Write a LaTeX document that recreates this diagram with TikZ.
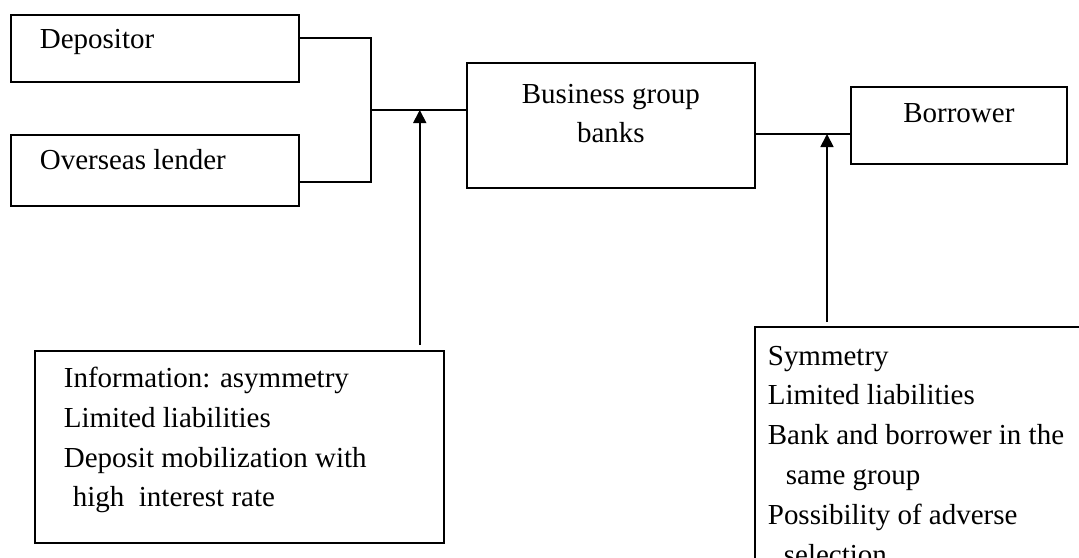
\documentclass[tikz,border=0pt]{standalone}
\usepackage{fontspec}
\setmainfont{Liberation Serif}
\usepackage{tikz}
\usetikzlibrary{arrows.meta}

\newlength\px
\setlength\px{0.02cm}
\newcommand{\boxtext}[3]{\parbox[c][#2][t]{#1}{\raggedright #3}}
\newcommand{\midtext}[3]{\parbox[c][#2][t]{#1}{\centering #3}}

\begin{document}
\begin{tikzpicture}[x=0.02cm, y=-0.02cm,
	>={Triangle[width=7.4pt,length=7.4pt]},
	every node/.style={font=\fontsize{16.5}{22.7}\selectfont},
	box/.style={draw=black, line width=1pt, anchor=north west},
	wire/.style={draw=black, line width=1pt}]

	\useasboundingbox (0,0) rectangle (1079,558);
	\clip (0,0) rectangle (1079,558);

	\node[box, inner xsep=29\px, inner ysep=14\px] (dep) at (10, 14) {\boxtext{230\px}{39\px}{Depositor}};
	\node[box, inner xsep=29\px, inner ysep=15\px] (ovl) at (10, 134) {\boxtext{230\px}{41\px}{Overseas lender}};

	\node[box, inner xsep=10\px, inner ysep=21\px] (bank) at (466, 62) {\midtext{268\px}{83\px}{Business group\\banks}};

	\node[box, inner xsep=10\px, inner ysep=17\px] (bor) at (850, 86) {\midtext{196\px}{43\px}{Borrower}};

	\node[box, inner xsep=29\px, inner ysep=16\px] (info) at (34, 350) {\boxtext{351\px}{160\px}{Information: asymmetry\\Limited liabilities\\Deposit mobilization with\\\hspace*{9\px}high\ \ interest rate}};

	\node[box, inner xsep=13\px, inner ysep=19\px] (risk) at (754, 326) {\boxtext{334\px}{222\px}{Symmetry\\Limited liabilities\\Bank and borrower in the\\\hspace*{18\px}same group\\Possibility of adverse\\\hspace*{16\px}selection}};

	\coordinate (join) at (371, 110);
	\coordinate (link) at ([yshift=-72\px]bank.north east);
	\coordinate (footL) at ([xshift=-25\px, yshift=5\px]info.north east);
	\coordinate (footR) at ([xshift=73\px, yshift=4\px]risk.north west);

	\path[wire] ([yshift=-24\px]dep.north east) -| (join);
	\path[wire] ([yshift=-48\px]ovl.north east) -| (join);
	\path[wire] (join) -- (join -| bank.west);
	\path[wire] (link) -- (link -| bor.west);

	\path[->, wire] (footL) -- (footL |- join);
	\path[->, wire] (footR) -- (footR |- link);

\end{tikzpicture}
\end{document}
